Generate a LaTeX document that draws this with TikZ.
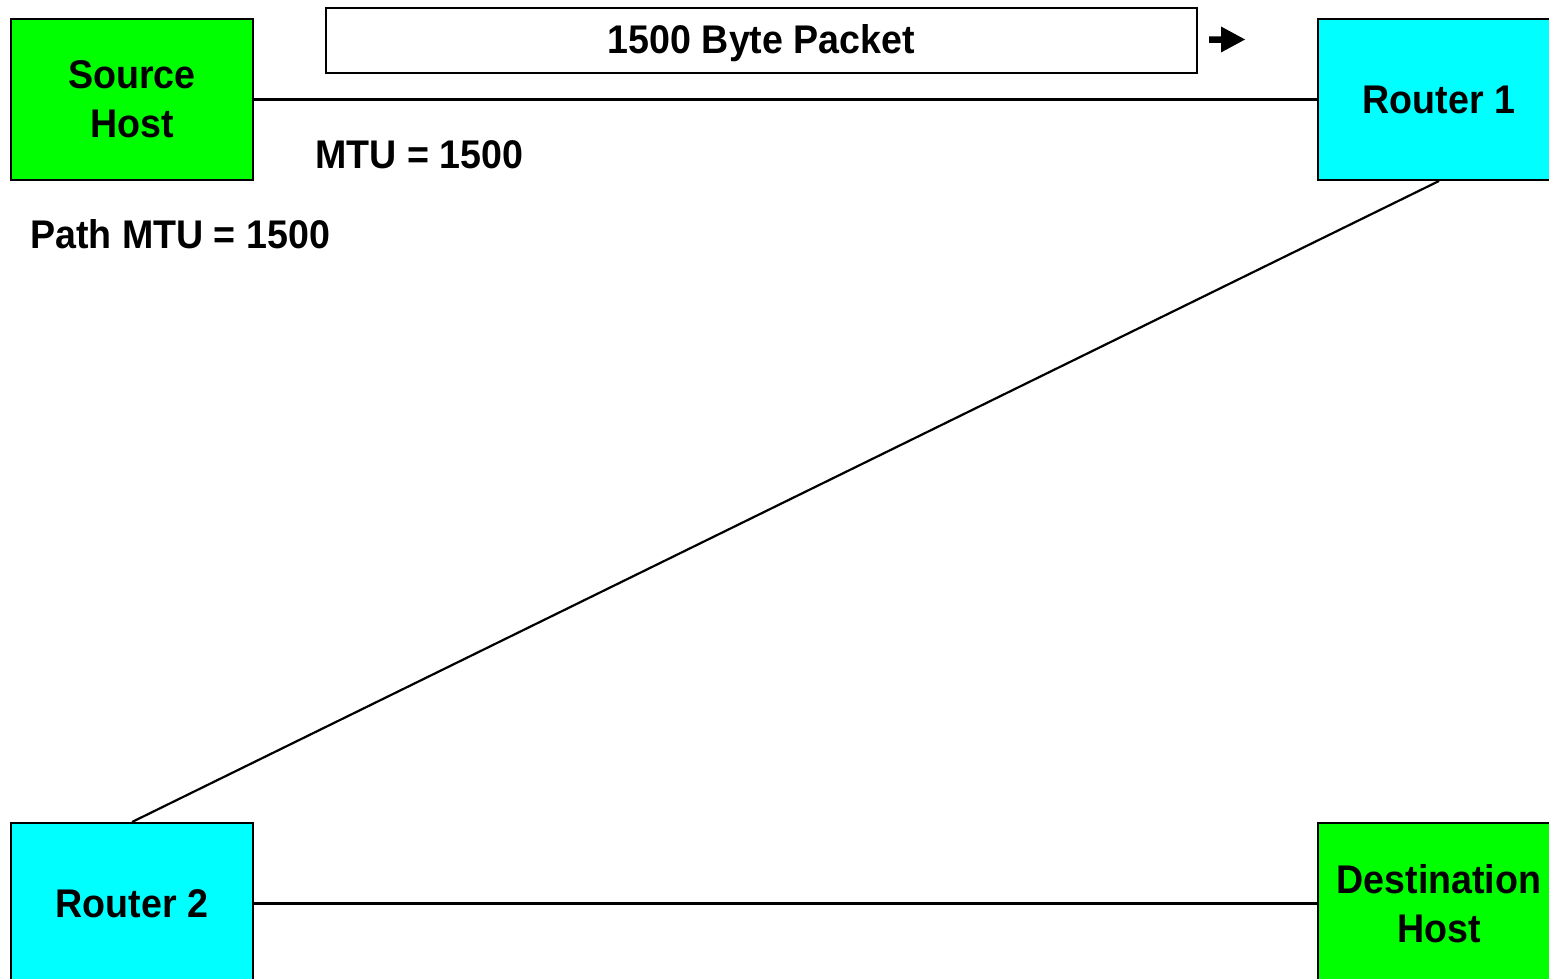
\documentclass[tikz,border=0pt]{standalone}
\usepackage{fontspec}
\setmainfont[FakeStretch=0.94]{Liberation Sans}
\begin{document}
\begin{tikzpicture}[x=1pt,y=-1pt,
  box/.style={draw, line width=2pt, minimum width=242pt, minimum height=161pt, inner sep=0pt,
    font=\bfseries\fontsize{40}{49}\selectfont, align=center},
  lbl/.style={font=\bfseries\fontsize{40}{48}\selectfont, inner sep=0pt},
  link/.style={line width=2.2pt}]
\useasboundingbox (0,0) rectangle (1549,979);
\clip (0,0) rectangle (1549,979);
\node[box, fill={rgb,255:red,0;green,255;blue,0}] (src) at (132,99.5) {Source\\Host};
\node[box, fill={rgb,255:red,0;green,255;blue,255}] (r1) at (1439,99.5) {Router 1};
\node[box, fill={rgb,255:red,0;green,255;blue,255}] (r2) at (132,903.5) {Router 2};
\node[box, fill={rgb,255:red,0;green,255;blue,0}] (dst) at (1439,903.5) {Destination\\Host};
\node[draw, line width=1.6pt, minimum width=871pt, minimum height=65pt, inner sep=0pt,
  text height=26pt, text depth=0pt,
  font=\bfseries\fontsize{40}{48}\selectfont] (pkt) at (761.5,40.5) {1500 Byte Packet};
\fill (1209,36.5) -- (1221,36.5) -- (1221,26.5) -- (1245,39.5) -- (1221,52.5) -- (1221,43) -- (1209,43) -- cycle;
\draw[link] (src.east) -- (r1.west);
\draw[link] (r1.south) -- (r2.north);
\draw[link] (r2.east) -- (dst.west);
\node[lbl, anchor=base west] (mtu) at (315,168) {MTU = 1500};
\node[lbl, anchor=base west] (pmtu) at (30,248) {Path MTU = 1500};
\end{tikzpicture}
\end{document}
